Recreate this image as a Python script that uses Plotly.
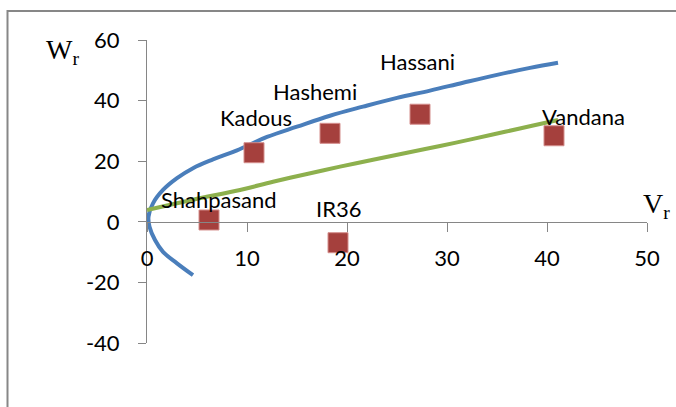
import plotly.graph_objects as go

# Blue curve (sideways parabola) read along its path
blue_vr = [4.6, 3.0, 1.6, 0.8, 0.25, 0.15, 0.6, 1.6, 3.0, 4.6, 6.6, 9.0, 12.0, 15.0,
           18.3, 21.6, 25.0, 28.3, 31.6, 35.0, 38.3, 41.1]
blue_wr = [-17.6, -13.7, -9.9, -6.0, -1.6, 1.7, 6.1, 10.5, 14.4, 17.7, 20.6, 23.6,
           28.0, 31.4, 35.0, 38.0, 40.9, 43.3, 45.9, 48.5, 50.8, 52.5]

# Green regression line
green_vr = [0.0, 4.6, 9.3, 12.6, 16.0, 19.3, 22.6, 26.0, 29.3, 32.5, 35.8, 38.5, 41.1]
green_wr = [3.9, 7.3, 10.5, 13.2, 15.8, 18.2, 20.5, 22.8, 25.0, 27.3, 29.7, 31.7, 33.6]

# Cultivar points
cultivars = ["Shahpasand", "Kadous", "Hashemi", "Hassani", "Vandana", "IR36"]
cult_vr = [6.2, 10.7, 18.3, 27.3, 40.7, 19.1]
cult_wr = [0.6, 22.8, 29.2, 35.5, 28.4, -6.9]

x_ticks = [0, 10, 20, 30, 40, 50]
y_ticks = [-40, -20, 0, 20, 40, 60]

# label pixel offsets (dx, dy up) relative to each point
label_shift = {
    "Shahpasand": (10, 20),
    "Kadous": (1.5, 35),
    "Hashemi": (-15.5, 42),
    "Hassani": (-2.5, 53),
    "Vandana": (29, 19),
    "IR36": (0.5, 34),
}

AXIS = "#868686"
LABEL_FONT = dict(family="Lato", size=22, color="black")

fig = go.Figure()
fig.add_trace(go.Scatter(x=blue_vr, y=blue_wr, mode="lines",
                         line=dict(color="#4A7EBB", width=4, shape="spline", smoothing=1.1),
                         hoverinfo="skip"))
fig.add_trace(go.Scatter(x=green_vr, y=green_wr, mode="lines",
                         line=dict(color="#8DB04D", width=4, shape="spline", smoothing=1.1),
                         hoverinfo="skip"))
fig.add_trace(go.Scatter(x=cult_vr, y=cult_wr, mode="markers",
                         marker=dict(symbol="square", size=20, color="#A5403D",
                                     line=dict(color="#D48E8C", width=1)),
                         text=cultivars, hoverinfo="text"))

for name, x, y in zip(cultivars, cult_vr, cult_wr):
    dx, dy = label_shift[name]
    fig.add_annotation(x=x, y=y, text=name, showarrow=False, xshift=dx, yshift=dy,
                       font=LABEL_FONT, xanchor="center", yanchor="middle")

W, H = 676, 407
ML, MR, MT, MB = 147, 29, 40, 64
PW, PH = W - ML - MR, H - MT - MB


def px_to_paper(px, py):
    return (px - ML) / PW, (H - MB - py) / PH


# axis titles
wx, wy = px_to_paper(62, 51)
vx, vy = px_to_paper(656, 205)
fig.add_annotation(xref="paper", yref="paper", x=wx, y=wy, text="W<sub>r</sub>",
                   showarrow=False, font=dict(family="Liberation Serif", size=28, color="black"),
                   xanchor="center", yanchor="middle")
fig.add_annotation(xref="paper", yref="paper", x=vx, y=vy, text="V<sub>r</sub>",
                   showarrow=False, font=dict(family="Liberation Serif", size=28, color="black"),
                   xanchor="center", yanchor="middle")

# outer chart frame
bx0, by1 = px_to_paper(7.5, 11)
fig.add_shape(type="rect", xref="paper", yref="paper", x0=bx0, x1=1.3, y0=-0.4, y1=by1,
              line=dict(color="#878787", width=2), fillcolor="rgba(0,0,0,0)", layer="below")

y_zero_paper = (0 - (-40)) / (60 - (-40))

fig.update_layout(
    width=W, height=H,
    margin=dict(l=ML, r=MR, t=MT, b=MB),
    paper_bgcolor="white", plot_bgcolor="white",
    showlegend=False,
    xaxis=dict(range=[0, 50], tickvals=x_ticks, ticktext=[str(v) for v in x_ticks],
               showgrid=False, zeroline=False, showline=True, linecolor=AXIS, linewidth=1,
               ticks="outside", ticklen=9, tickcolor=AXIS, tickwidth=1,
               anchor="free", position=y_zero_paper, ticklabelstandoff=8,
               tickfont=LABEL_FONT),
    yaxis=dict(range=[-40, 60], tickvals=y_ticks, ticktext=[str(v) for v in y_ticks],
               showgrid=False, zeroline=False, showline=True, linecolor=AXIS, linewidth=1,
               ticks="outside", ticklen=8, tickcolor=AXIS, tickwidth=1,
               ticklabelstandoff=14, tickfont=LABEL_FONT),
)

fig.write_html("out.html")
